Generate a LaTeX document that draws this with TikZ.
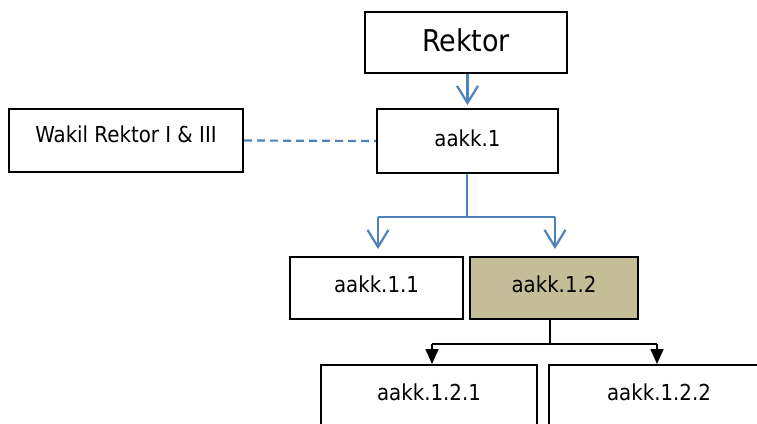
\documentclass[tikz,border=0pt]{standalone}
\usepackage{fontspec}
\setmainfont{DejaVu Sans}[FakeStretch=0.9]
\usetikzlibrary{arrows.meta}
\definecolor{lnblue}{HTML}{4F81BD}
\definecolor{tan}{HTML}{C4BD97}
\tikzset{
  box/.style={draw=black, line width=2pt, rectangle, inner sep=0pt, font=\fontsize{22}{24}\selectfont},
  blueline/.style={draw=lnblue, line width=2.2pt},
  bluearrow/.style={blueline, -{Straight Barb[length=17pt,width=21pt,line width=2.2pt]}},
  blackarrow/.style={draw=black, line width=1.6pt, -{Triangle[length=15pt,width=13pt]}},
}
\begin{document}
\begin{tikzpicture}[x=1pt,y=-1pt]
\useasboundingbox (0,0) rectangle (757,423);
\begin{scope}
\clip (0,0) rectangle (757,423);
\node[box, minimum width=202pt, minimum height=61pt, font=\fontsize{30}{32}\selectfont, text depth=4.4pt] (rektor) at (466,42.5) {Rektor};
\node[box, minimum width=181pt, minimum height=64pt, text depth=5.3pt] (a1) at (467.5,141) {aakk.1};
\node[box, minimum width=234pt, minimum height=63pt, text depth=13.5pt, font=\fontsize{22}{24}\selectfont] (wakil) at (126,140.5) {Wakil Rektor I \& III};
\node[box, minimum width=173pt, minimum height=62pt, text depth=8.5pt] (a11) at (376.5,288) {aakk.1.1};
\node[box, fill=tan, minimum width=168pt, minimum height=62pt, text depth=8.5pt] (a12) at (554,288) {aakk.1.2};
\node[box, minimum width=216pt, minimum height=62pt, text depth=7.3pt] (a121) at (429,396) {aakk.1.2.1};
\node[box, minimum width=220pt, minimum height=62pt, text depth=7.3pt] (a122) at (659,396) {aakk.1.2.2};

\coordinate (j1) at (467,217);
\coordinate (j2) at (550,344);
\coordinate (t11) at (378,257);
\coordinate (t12) at (555,257);
\coordinate (t121) at (432,365);
\coordinate (t122) at (657,365);

\draw[bluearrow, shorten >=3pt] (rektor.south -| a1.north) -- (a1.north);
\draw[blueline, dash pattern=on 8pt off 5pt] (wakil.east) -- (a1.west);
\draw[blueline] (a1.south -| j1) -- (j1);
\draw[blueline] (t11 |- j1) -- (t12 |- j1);
\draw[bluearrow, shorten >=8pt] (t11 |- j1) -- (t11);
\draw[bluearrow, shorten >=8pt] (t12 |- j1) -- (t12);

\draw[draw=black, line width=1.6pt] (a12.south -| j2) -- (j2);
\draw[draw=black, line width=1.6pt] (t121 |- j2) -- (t122 |- j2);
\draw[blackarrow, shorten >=1pt] (t121 |- j2) -- (t121);
\draw[blackarrow, shorten >=1pt] (t122 |- j2) -- (t122);
\end{scope}
\end{tikzpicture}
\end{document}
